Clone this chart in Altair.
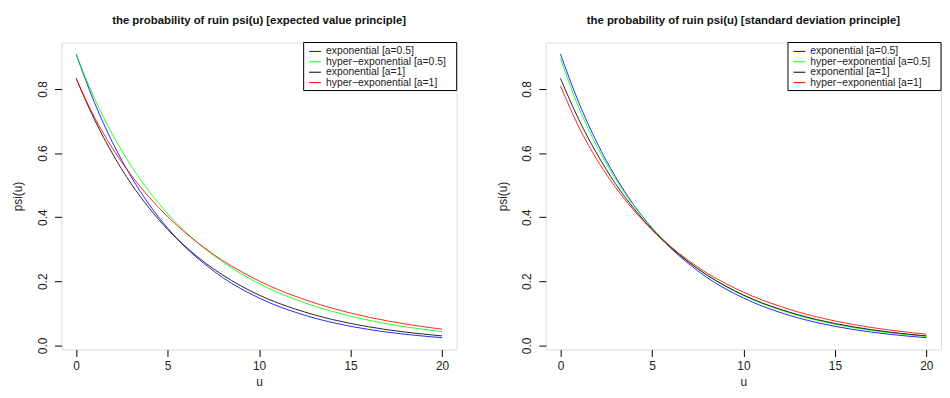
import altair as alt
import pandas as pd

u = list(range(21))
series = ["exponential [a=0.5]", "hyper−exponential [a=0.5]",
          "exponential [a=1]", "hyper−exponential [a=1]"]
colors = ["#0000ff", "#00ff00", "#000000", "#ff0000"]

# expected value principle
ev_exp05 = [0.909, 0.758, 0.632, 0.527, 0.439, 0.366, 0.305, 0.255, 0.212, 0.177, 0.148,
            0.123, 0.103, 0.0856, 0.0714, 0.0595, 0.0496, 0.0414, 0.0345, 0.0288, 0.0240]
ev_hyp05 = [0.909, 0.771, 0.657, 0.561, 0.480, 0.411, 0.353, 0.303, 0.261, 0.224, 0.193,
            0.166, 0.143, 0.123, 0.106, 0.0910, 0.0783, 0.0674, 0.0580, 0.0500, 0.0430]
ev_exp1 = [0.833, 0.705, 0.597, 0.505, 0.428, 0.362, 0.307, 0.260, 0.220, 0.186, 0.157,
           0.133, 0.113, 0.0955, 0.0808, 0.0684, 0.0579, 0.0490, 0.0415, 0.0351, 0.0297]
ev_hyp1 = [0.833, 0.712, 0.614, 0.532, 0.462, 0.402, 0.350, 0.305, 0.265, 0.231, 0.201,
           0.175, 0.153, 0.133, 0.116, 0.101, 0.0879, 0.0766, 0.0667, 0.0581, 0.0506]

# standard deviation principle
sd_exp05 = ev_exp05
sd_hyp05 = [0.895, 0.742, 0.620, 0.520, 0.437, 0.368, 0.310, 0.261, 0.219, 0.185, 0.156,
            0.131, 0.111, 0.0930, 0.0784, 0.0660, 0.0556, 0.0468, 0.0394, 0.0332, 0.0280]
sd_exp1 = ev_exp1
sd_hyp1 = [0.810, 0.682, 0.579, 0.494, 0.422, 0.361, 0.309, 0.265, 0.226, 0.194, 0.166,
           0.142, 0.122, 0.104, 0.0890, 0.0762, 0.0652, 0.0558, 0.0478, 0.0409, 0.0350]

titles = ["the probability of ruin psi(u) [expected value principle]",
          "the probability of ruin psi(u) [standard deviation principle]"]

FONT = "Liberation Sans"
W, H = 399, 310
color_scale = alt.Scale(domain=series, range=colors)


def frame(cols):
    rows = []
    for name, vals in zip(series, cols):
        for x, y in zip(u, vals):
            rows.append({"u": x, "psi": y, "series": name})
    return pd.DataFrame(rows)


legend_df = pd.DataFrame({"series": series, "row": list(range(len(series)))})


def panel(df, title):
    lines = alt.Chart(df).mark_line(strokeWidth=1, strokeOpacity=0.85,
                                    interpolate="monotone").encode(
        x=alt.X("u:Q", title="u",
                scale=alt.Scale(domain=[-0.8, 20.8], nice=False, zero=False),
                axis=alt.Axis(values=[0, 5, 10, 15, 20], format="d", domain=False, grid=False,
                              tickSize=7, tickColor="black", labelColor="#222",
                              labelFontSize=12, labelFont=FONT, labelPadding=4,
                              titleFontSize=12, titleFont=FONT, titleFontWeight="normal",
                              titleColor="#222", titlePadding=5)),
        y=alt.Y("psi:Q", title="psi(u)",
                scale=alt.Scale(domain=[-0.013, 0.945], nice=False, zero=False),
                axis=alt.Axis(values=[0, 0.2, 0.4, 0.6, 0.8], format=".1f", domain=False,
                              grid=False, tickSize=7, tickColor="black", labelColor="#222",
                              labelFontSize=12, labelFont=FONT, labelAngle=270,
                              labelAlign="center", labelBaseline="bottom", labelPadding=5,
                              titleFontSize=12, titleFont=FONT, titleFontWeight="normal",
                              titleColor="#222", titlePadding=12)),
        color=alt.Color("series:N", sort=series, scale=color_scale, legend=None),
    )

    box = alt.Chart(pd.DataFrame({"k": [0]})).mark_rect(
        fill="white", stroke="black", strokeWidth=1
    ).encode(x=alt.value(244.5), x2=alt.value(W), y=alt.value(0), y2=alt.value(48.5))

    base = alt.Chart(legend_df).transform_calculate(ly="9 + 10.5 * datum.row")
    keys = base.mark_rule(strokeWidth=1).encode(
        x=alt.value(250), x2=alt.value(262),
        y=alt.Y("ly:Q", scale=None, axis=None),
        color=alt.Color("series:N", sort=series, scale=color_scale, legend=None),
    )
    labels = base.mark_text(align="left", baseline="middle", fontSize=10.5, font=FONT,
                            color="#222").encode(
        x=alt.value(267),
        y=alt.Y("ly:Q", scale=None, axis=None),
        text="series:N",
    )

    return alt.layer(lines, box, keys, labels).properties(
        width=W, height=H,
        title=alt.TitleParams(title, fontSize=11.5, font=FONT, fontWeight="bold",
                              color="#111", offset=16),
    )


left = panel(frame([ev_exp05, ev_hyp05, ev_exp1, ev_hyp1]), titles[0])
right = panel(frame([sd_exp05, sd_hyp05, sd_exp1, sd_hyp1]), titles[1])

chart = alt.hconcat(left, right, spacing=38).properties(
    padding={"left": 3, "top": 4, "right": 0, "bottom": 0}
).configure_view(stroke="black", strokeWidth=1).configure(background="white")

chart.save("out.html", embed_options={"renderer": "svg", "actions": False})
